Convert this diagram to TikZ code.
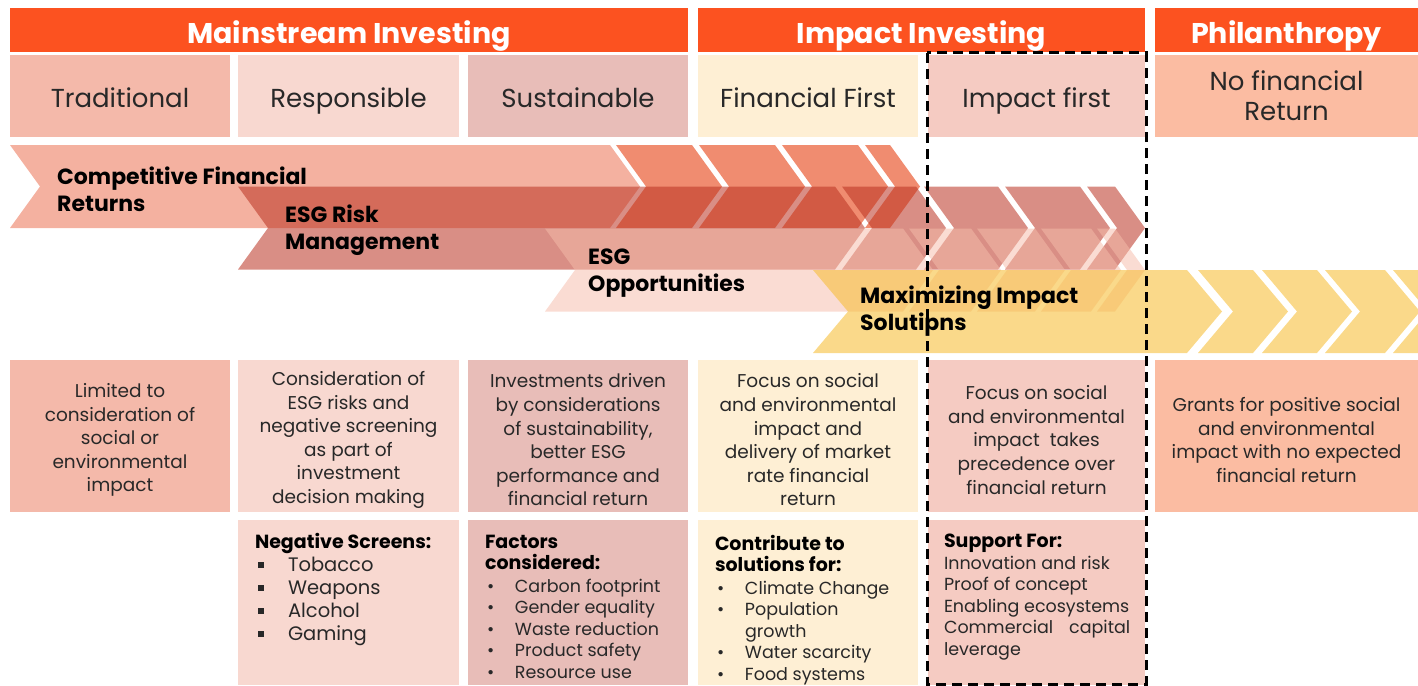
\documentclass[tikz,border=0pt]{standalone}
\usepackage{fontspec}
\setmainfont{Poppins}
\usepackage{xcolor}
\usepackage{tikz}
\usetikzlibrary{positioning}

\definecolor{hdrorange}{RGB}{252,82,32}
\definecolor{tradcol}{RGB}{244,185,170}
\definecolor{respcol}{RGB}{248,216,208}
\definecolor{sustcol}{RGB}{232,189,184}
\definecolor{fincol}{RGB}{254,239,212}
\definecolor{impcol}{RGB}{245,203,194}
\definecolor{philcol}{RGB}{251,188,162}
\definecolor{bandonebody}{RGB}{244,177,160}
\definecolor{bandonechev}{RGB}{240,140,112}
\definecolor{bandtwo}{RGB}{186,50,33}
\definecolor{bandthree}{RGB}{245,188,170}
\definecolor{bandfour}{RGB}{247,192,60}
\definecolor{txtgray}{RGB}{40,40,40}

% style, left x, right x, top y, depth
\newcommand{\chevpiece}[5]{%
  \fill[#1] (#2,#4) -- (#3,#4) -- ++(#5,41.5) -- ++(-#5,41.5) -- (#2,#4+83) -- ++(#5,-41.5) -- cycle;}
\newcommand{\sqitem}[1]{\hspace*{3pt}\makebox[30pt][l]{\rule[3pt]{6pt}{6pt}}#1}
\newcommand{\dotitem}[1]{\hspace*{2pt}\makebox[28pt][l]{\textbullet}#1}
\newcommand{\listhead}[1]{{\color{black}\fontsize{19}{21.5}\selectfont\bfseries #1}}

\tikzset{
  hdr/.style={fill=hdrorange, text=white, font=\fontsize{28.5}{30}\selectfont\bfseries, minimum height=44pt,
    inner sep=0pt, text height=28pt, text depth=0pt},
  cat/.style={minimum height=82pt, inner sep=0pt, text=txtgray, align=center, font=\fontsize{26}{30}\selectfont},
  catone/.style={cat, text height=22pt, text depth=0pt},
  descbox/.style={minimum height=152pt, inner sep=0pt},
  desctxt/.style={inner sep=0pt, text=txtgray, align=center, font=\fontsize{18.5}{23.6}\selectfont},
  listbox/.style={minimum height=165pt, inner sep=0pt},
  listtxt/.style={anchor=north west, inner sep=0pt, align=left, text=txtgray, font=\fontsize{17.5}{21.5}\selectfont},
  bandlbl/.style={anchor=west, inner sep=0pt, align=left, font=\fontsize{22}{27}\selectfont\bfseries},
}

\begin{document}
\begin{tikzpicture}[x=1pt,y=-1pt]
  \useasboundingbox (0,0) rectangle (1418,685);
  \clip (0,0) rectangle (1418,685);

  % headers
  \node[hdr, minimum width=678pt] (mainstream) at (349,30) {Mainstream Investing};
  \node[hdr, minimum width=447pt] (impact) at (921.5,30) {Impact Investing};
  \node[hdr, minimum width=263pt] (philanthropy) at (1286.5,30) {Philanthropy};

  \node[catone, fill=tradcol, minimum width=220pt] (traditional) at (120,96) {Traditional};
  \node[catone, fill=respcol, minimum width=221pt] (responsible) at (348.5,96) {Responsible};
  \node[catone, fill=sustcol, minimum width=220pt] (sustainable) at (578,96) {Sustainable};
  \node[catone, fill=fincol, minimum width=220pt] (finFirst) at (808,96) {Financial First};
  \node[catone, fill=impcol, minimum width=217pt] (impFirst) at (1036.5,96) {Impact first};
  \node[cat, fill=philcol, minimum width=263pt] (noReturn) at (1286.5,96) {No financial\\Return};

  % bands
  \chevpiece{bandonebody}{10}{610}{145}{30}
  \foreach \a/\b in {616/692, 699/775, 782/858, 865/890}
    {\chevpiece{bandonechev}{\a}{\b}{145}{30}}

  \chevpiece{bandtwo, opacity=0.55}{238}{835}{186.5}{30}
  \foreach \a/\b in {842/916, 924/998, 1005/1080, 1087/1115}
    {\chevpiece{bandtwo, opacity=0.55}{\a}{\b}{186.5}{30}}

  \chevpiece{bandthree, opacity=0.52}{545}{903}{228.5}{30}
  \foreach \a/\b in {909/971, 977/1035, 1041/1091, 1097/1115}
    {\chevpiece{bandthree, opacity=0.52}{\a}{\b}{228.5}{30}}

  \chevpiece{bandfour, opacity=0.6}{813}{1187}{270}{35}
  \foreach \a/\b in {1198/1253, 1262/1317, 1325/1385, 1393/1450}
    {\chevpiece{bandfour, opacity=0.6}{\a}{\b}{270}{35}}

  \node[bandlbl] (compLbl) at (57,189.5) {Competitive Financial\\Returns};
  \node[bandlbl] (riskLbl) at (285,230.5) {ESG Risk\\Management};
  \node[bandlbl] (oppLbl) at (588,273) {ESG\\Opportunities};
  \node[bandlbl] (maxLbl) at (860,311.5) {Maximizing Impact\\Solutipns};

  % descriptions
  \node[descbox, fill=tradcol, minimum width=220pt] (tradDesc) at (120,436) {};
  \node[descbox, fill=respcol, minimum width=221pt] (respDesc) at (348.5,436) {};
  \node[descbox, fill=sustcol, minimum width=220pt] (sustDesc) at (578,436) {};
  \node[descbox, fill=fincol, minimum width=220pt] (finDesc) at (808,436) {};
  \node[descbox, fill=impcol, minimum width=217pt] (impDesc) at (1036.5,436) {};
  \node[descbox, fill=philcol, minimum width=263pt] (philDesc) at (1286.5,436) {};

  \node[desctxt] (tradTxt) at ([shift={(0,4)}]tradDesc.center)
    {Limited to\\consideration of\\social or\\environmental\\impact};
  \node[desctxt] (respTxt) at ([shift={(0,4)}]respDesc.center)
    {Consideration of\\ESG risks and\\negative screening\\as part of\\investment\\decision making};
  \node[desctxt] (sustTxt) at ([shift={(0,4)}]sustDesc.center)
    {Investments driven\\by considerations\\of sustainability,\\better ESG\\performance and\\financial return};
  \node[desctxt] (finTxt) at ([shift={(0,4)}]finDesc.center)
    {Focus on social\\and environmental\\impact and\\delivery of market\\rate financial\\return};
  \node[desctxt] (impTxt) at ([shift={(0,4)}]impDesc.center)
    {Focus on social\\and environmental\\impact\ \ takes\\precedence over\\financial return};
  \node[desctxt] (philTxt) at ([shift={(0,4)}]philDesc.center)
    {Grants for positive social\\and environmental\\impact with no expected\\financial return};

  % lists
  \node[listbox, fill=respcol, minimum width=221pt] (respList) at (348.5,602.5) {};
  \node[listbox, fill=sustcol, minimum width=220pt] (sustList) at (578,602.5) {};
  \node[listbox, fill=fincol, minimum width=220pt] (finList) at (808,602.5) {};
  \node[listbox, fill=impcol, minimum width=217pt] (impList) at (1036.5,602.5) {};

  \node[listtxt, font=\fontsize{19.5}{23}\selectfont] (respItems) at ([shift={(17,13)}]respList.north west)
    {\listhead{Negative Screens:}\\
     \sqitem{Tobacco}\\ \sqitem{Weapons}\\ \sqitem{Alcohol}\\ \sqitem{Gaming}};
  \node[listtxt] (sustItems) at ([shift={(17,15)}]sustList.north west)
    {\listhead{Factors}\\ \listhead{considered:}\\[1pt]
     \dotitem{Carbon footprint}\\ \dotitem{Gender equality}\\ \dotitem{Waste reduction}\\
     \dotitem{Product safety}\\ \dotitem{Resource use}};
  \node[listtxt] (finItems) at ([shift={(17,15)}]finList.north west)
    {\listhead{Contribute to}\\ \listhead{solutions for:}\\[1pt]
     \dotitem{Climate Change}\\ \dotitem{Population}\\ \hspace*{30pt}growth\\
     \dotitem{Water scarcity}\\ \dotitem{Food systems}};
  \node[listtxt] (impItems) at ([shift={(16,14)}]impList.north west)
    {\listhead{Support For:}\\ Innovation and risk\\ Proof of concept\\
     Enabling ecosystems\\ Commercial\hspace{16pt}capital\\ leverage};

  \coordinate (dashTL) at (927,53);
  \coordinate (dashBR) at (1146,684);
  \draw[black, line width=3pt, dash pattern=on 10pt off 6pt] (dashTL) rectangle (dashBR);
\end{tikzpicture}
\end{document}
